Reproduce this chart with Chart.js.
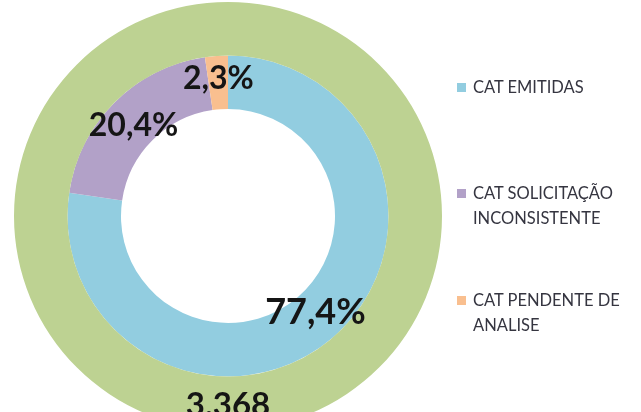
<!DOCTYPE html>
<html>
<head>
<meta charset="utf-8">
<script src="https://cdn.jsdelivr.net/npm/chart.js@4"></script>
<style>
    html, body { margin: 0; padding: 0; background: #fff; overflow: hidden; width: 641px; height: 412px; }
    #wrap { position: absolute; left: 0; top: 0; width: 641px; height: 430px; }
    #legend { position: absolute; left: 455px; top: 0; font-family: Lato, sans-serif; font-size: 16.5px; color: #353540; }
    .item { position: absolute; left: 0; width: 185px; line-height: 25px; padding-left: 18px; }
    .item span.box { position: absolute; left: 2px; top: 8px; width: 9px; height: 9px; }
</style>
</head>
<body>
<div id="wrap"><canvas id="catChart" width="641" height="430"></canvas></div>
<div id="legend"></div>
<script>
// dados
const categories = ['CAT EMITIDAS', 'CAT SOLICITAÇÃO INCONSISTENTE', 'CAT PENDENTE DE ANALISE'];
const percentValues = [77.4, 20.4, 2.3];
const totalLabel = ['TOTAL'];
const totalValues = [3368];

const innerColors = ['#92cde0', '#b2a1c8', '#f9bf8f'];
const outerColors = ['#bdd292'];
const legendTops = [75, 181, 288];

function fmtPercent(v) {
    return v.toFixed(1).replace('.', ',') + '%';
}

function fmtThousands(v) {
    return String(v).replace(/\B(?=(\d{3})+(?!\d))/g, '.');
}

// desenha os rótulos no centro de cada fatia
const sliceLabels = {
    id: 'sliceLabels',
    afterDatasetsDraw(chart) {
        const ctx = chart.ctx;
        ctx.save();
        ctx.textAlign = 'center';
        ctx.textBaseline = 'middle';
        ctx.fillStyle = '#151515';
        chart.data.datasets.forEach((ds, i) => {
            const meta = chart.getDatasetMeta(i);
            meta.data.forEach((arc, j) => {
                const pos = arc.tooltipPosition();
                const txt = ds.fmt(ds.data[j]);
                const size = ds.fontSizes[j];
                ctx.font = 'bold ' + size + 'px Lato, sans-serif';
                ctx.fillText(txt, pos.x, pos.y + ds.dy[j]);
            });
        });
        ctx.restore();
    }
};

const chart = new Chart(document.getElementById('catChart').getContext('2d'), {
    type: 'doughnut',
    data: {
        labels: categories,
        datasets: [
            {
                label: totalLabel[0],
                data: totalValues,
                backgroundColor: outerColors,
                borderWidth: 0,
                fmt: fmtThousands,
                fontSizes: [33],
                dy: [2]
            },
            {
                label: 'Situação',
                data: percentValues,
                backgroundColor: innerColors,
                borderWidth: 0,
                fmt: fmtPercent,
                fontSizes: [36, 32, 32],
                dy: [-5, 4, -4]
            }
        ]
    },
    options: {
        responsive: false,
        animation: false,
        cutout: '50%',
        layout: { padding: { left: 14, right: 199, top: 2, bottom: 0 } },
        plugins: {
            legend: { display: false },
            tooltip: { enabled: false }
        }
    },
    plugins: [sliceLabels]
});

// legenda em HTML (texto quebra em duas linhas)
const legendEl = document.getElementById('legend');
categories.forEach((name, i) => {
    const item = document.createElement('div');
    item.className = 'item';
    item.style.top = legendTops[i] + 'px';
    const box = document.createElement('span');
    box.className = 'box';
    box.style.background = innerColors[i];
    item.appendChild(box);
    item.appendChild(document.createTextNode(name));
    legendEl.appendChild(item);
});
</script>
</body>
</html>
